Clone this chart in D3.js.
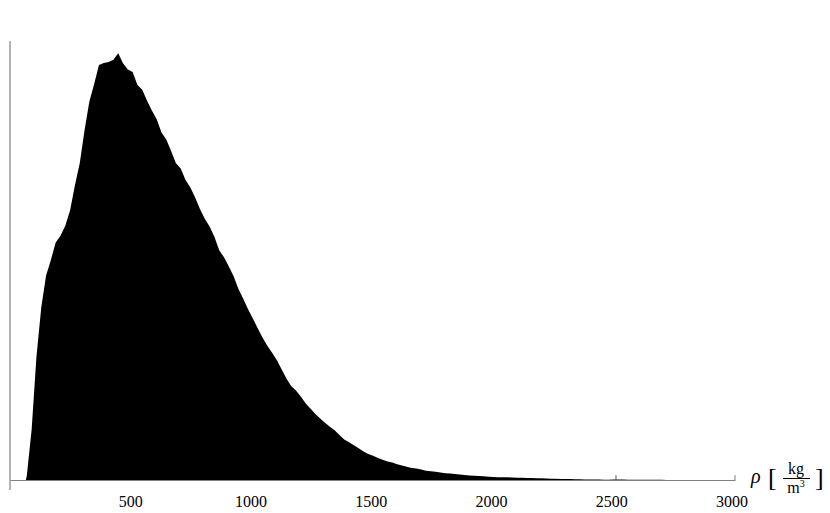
<!DOCTYPE html>
<html>
<head>
<meta charset="utf-8">
<script src="https://cdn.jsdelivr.net/npm/d3@7"></script>
<style>
  body { margin: 0; background: #fff; }
  svg { display: block; }
</style>
</head>
<body>
<svg id="svg" width="830" height="513"></svg>
<script>
// Density histogram, bin width 20 kg/m3, relative counts (peak ~ 97)
var binStart = 60;
var binWidth = 20;
var counts = [
  1, 11.5, 28, 39.2, 46.5, 50, 54, 55.5, 57.8, 61.3,        // 60 - 260
  67, 72, 79.5, 86, 90, 94.3, 94.8, 95, 95.5, 97,           // 260 - 460
  94.7, 93.3, 92.7, 89.8, 88.7, 86.2, 84, 82, 79, 77.4,     // 460 - 660
  74.8, 72, 70.8, 68.2, 66.5, 64.2, 61.6, 59.4, 57.6, 55.3, // 660 - 860
  52.2, 50.6, 48.5, 46.3, 43.4, 41.2, 38.8, 36.7, 34.5, 32.4, // 860 - 1060
  30.5, 28.9, 27.2, 25.1, 23, 21.3, 20.3, 18.9, 17.4, 16.2, // 1060 - 1260
  15, 14, 13, 12.1, 11.3, 10.2, 9.2, 8.6, 7.9, 7.2,         // 1260 - 1460
  6.5, 5.9, 5.5, 5, 4.6, 4.2, 3.95, 3.6, 3.3, 3,            // 1460 - 1660
  2.75, 2.6, 2.4, 2.1, 2.0, 1.9, 1.7, 1.55, 1.45, 1.35,     // 1660 - 1860
  1.25, 1.15, 1.05, 0.95, 0.9, 0.85, 0.75, 0.7, 0.65, 0.62, // 1860 - 2060
  0.6, 0.55, 0.5, 0.5, 0.47, 0.45, 0.4, 0.38, 0.35, 0.3,    // 2060 - 2260
  0.3, 0.25, 0.2, 0.2, 0.15, 0.15, 0.12, 0.1, 0.1, 0.1,     // 2260 - 2460
  0.08, 0.08, 0.1, 0.1, 0.1, 0.05, 0.08, 0.05, 0.05, 0.05,  // 2460 - 2660
  0.03, 0.03, 0.03, 0, 0, 0, 0, 0, 0, 0,                    // 2660 - 2860
  0, 0, 0, 0, 0, 0, 0                                       // 2860 - 3000
];
// isolated single-bin outlier near 2520 kg/m3
var spikeAt = 2518;
var spikeCount = 1.1;
var tickLabels = [500, 1000, 1500, 2000, 2500, 3000];

var serif = "Liberation Serif, Times New Roman, serif";
var svg = d3.select("svg");

// Scales
var xScale = d3.scaleLinear().domain([0, 3015]).range([10, 735]);
var yScale = d3.scaleLinear().domain([0, 100]).range([480, 40]);

// Histogram outline through the bin centres
var points = [{ x: binStart + binWidth * 0.3, y: 0 }];
counts.forEach(function (c, i) {
  points.push({ x: binStart + (i + 0.5) * binWidth, y: c });
});
points.push({ x: binStart + counts.length * binWidth, y: 0 });

var area = d3.area()
  .x(function (d) { return xScale(d.x); })
  .y0(yScale(0))
  .y1(function (d) { return yScale(d.y); });

svg.append("path")
  .datum(points)
  .attr("d", area)
  .attr("fill", "#000");

// the outlier bin, one pixel wide
svg.append("rect")
  .attr("x", xScale(spikeAt))
  .attr("width", 1)
  .attr("y", yScale(spikeCount))
  .attr("height", yScale(0) - yScale(spikeCount))
  .attr("fill", "#555");

// y axis line (no ticks), runs a bit below the x axis
svg.append("line")
  .attr("x1", xScale(0)).attr("x2", xScale(0))
  .attr("y1", yScale(100) + 1).attr("y2", yScale(0) + 10)
  .attr("stroke", "#808080").attr("stroke-width", 1.2);

// x axis
var xAxis = svg.append("g")
  .attr("transform", "translate(0," + yScale(0) + ")")
  .call(d3.axisBottom(xScale).tickValues(tickLabels).tickFormat(d3.format("d")).tickSize(0).tickPadding(16));
xAxis.select(".domain").attr("stroke", "#808080").attr("stroke-width", 1.2);
xAxis.attr("font-family", serif).attr("font-size", 16);
xAxis.selectAll("text").attr("fill", "#000");

// small tick at the end of the axis
svg.append("line")
  .attr("x1", xScale.range()[1]).attr("x2", xScale.range()[1])
  .attr("y1", yScale(0) - 5).attr("y2", yScale(0))
  .attr("stroke", "#808080");

// unit label: rho [kg / m^3]
var lab = svg.append("g").attr("font-family", serif).attr("fill", "#000");
lab.append("text").attr("x", 751).attr("y", 483).attr("font-size", 20).attr("font-style", "italic").text("ρ");
lab.append("text").attr("x", 768).attr("y", 486).attr("font-size", 26).text("[");
lab.append("text").attr("x", 796).attr("y", 474).attr("font-size", 16).attr("text-anchor", "middle").text("kg");
lab.append("line").attr("x1", 783).attr("x2", 810).attr("y1", 478.5).attr("y2", 478.5).attr("stroke", "#000");
var m3 = lab.append("text").attr("x", 796).attr("y", 493).attr("font-size", 16).attr("text-anchor", "middle");
m3.append("tspan").text("m");
m3.append("tspan").attr("font-size", 10).attr("dy", -6).text("3");
lab.append("text").attr("x", 815).attr("y", 486).attr("font-size", 26).text("]");
</script>
</body>
</html>
